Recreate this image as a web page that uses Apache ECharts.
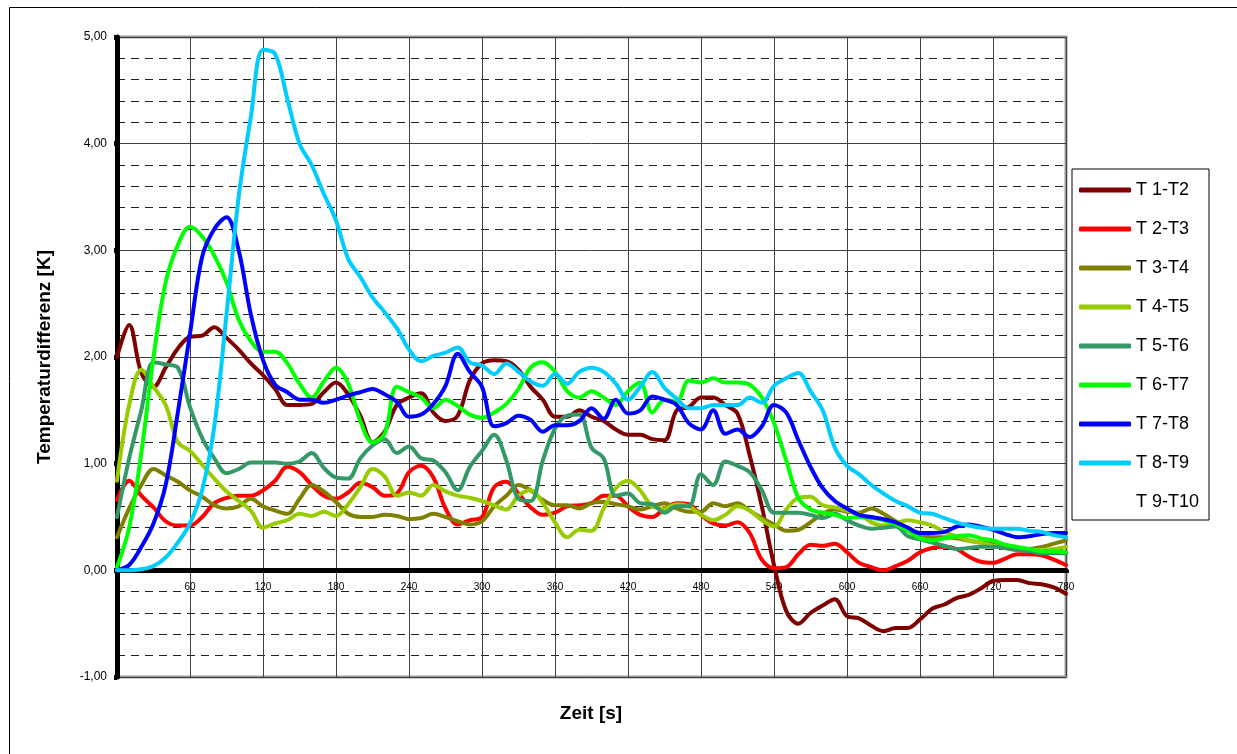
<!DOCTYPE html>
<html>
<head>
<meta charset="utf-8">
<script src="https://cdn.jsdelivr.net/npm/echarts@6/dist/echarts.min.js"></script>
<style>
html,body{margin:0;padding:0;background:#fff;}
#chart{width:1237px;height:754px;}
</style>
</head>
<body>
<div id="chart"></div>
<script>
const xTickLabels = [60,120,180,240,300,360,420,480,540,600,660,720,780];
const seriesNames = ['T 1-T2','T 2-T3','T 3-T4','T 4-T5','T 5-T6','T 6-T7','T 7-T8','T 8-T9','T 9-T10'];
const seriesColors = ['#800000','#FF0000','#808000','#99CC00','#339966','#00FF00','#0000FF','#00CCFF','rgba(0,0,0,0)'];

const time = [0,10,20,30,40,50,60,70,80,90,100,110,120,130,140,150,160,170,180,190,200,210,220,230,240,250,260,270,280,290,300,310,320,330,340,350,360,370,380,390,400,410,420,430,440,450,460,470,480,490,500,510,520,530,540,550,560,570,580,590,600,610,620,630,640,650,660,670,680,690,700,710,720,730,740,750,760,770,780];

const t1_t2 = [2.0,2.3,1.85,1.72,1.9,2.08,2.19,2.2,2.28,2.18,
2.07,1.94,1.83,1.7,1.55,1.55,1.56,1.67,1.76,1.65,
1.45,1.2,1.3,1.55,1.62,1.66,1.48,1.4,1.45,1.78,
1.94,1.97,1.96,1.88,1.72,1.6,1.44,1.44,1.5,1.44,
1.4,1.32,1.27,1.27,1.23,1.22,1.5,1.53,1.62,1.62,
1.55,1.47,1.08,0.6,0.05,-0.38,-0.5,-0.4,-0.33,-0.27,
-0.43,-0.45,-0.52,-0.57,-0.54,-0.54,-0.46,-0.36,-0.32,-0.26,
-0.23,-0.17,-0.1,-0.09,-0.09,-0.12,-0.13,-0.16,-0.22];

const t2_t3 = [0.66,0.84,0.7,0.59,0.46,0.42,0.42,0.5,0.63,0.68,
0.7,0.7,0.75,0.84,0.97,0.92,0.8,0.7,0.67,0.73,
0.82,0.78,0.7,0.72,0.92,0.98,0.87,0.58,0.43,0.47,
0.5,0.78,0.83,0.72,0.59,0.52,0.54,0.6,0.61,0.63,
0.7,0.7,0.6,0.52,0.5,0.58,0.63,0.62,0.52,0.44,
0.42,0.45,0.35,0.1,0.02,0.03,0.15,0.24,0.23,0.25,
0.17,0.07,0.03,0.0,0.04,0.09,0.17,0.21,0.22,0.2,
0.13,0.08,0.07,0.11,0.15,0.15,0.14,0.1,0.05];

const t3_t4 = [0.31,0.58,0.8,0.95,0.89,0.83,0.75,0.69,0.61,0.58,
0.6,0.67,0.6,0.56,0.53,0.67,0.8,0.74,0.64,0.53,
0.5,0.5,0.52,0.51,0.48,0.49,0.53,0.5,0.46,0.43,
0.46,0.6,0.7,0.8,0.75,0.66,0.61,0.61,0.58,0.63,
0.64,0.62,0.6,0.57,0.6,0.63,0.58,0.55,0.55,0.63,
0.6,0.63,0.56,0.49,0.43,0.37,0.38,0.45,0.53,0.57,
0.55,0.54,0.58,0.53,0.46,0.39,0.33,0.31,0.31,0.3,
0.28,0.26,0.25,0.23,0.21,0.2,0.22,0.25,0.28];

const t4_t5 = [0.84,1.55,1.88,1.72,1.55,1.2,1.12,0.99,0.86,0.74,
0.65,0.56,0.4,0.44,0.47,0.53,0.51,0.55,0.51,0.62,
0.78,0.95,0.88,0.7,0.73,0.7,0.8,0.74,0.7,0.68,
0.65,0.61,0.57,0.7,0.75,0.63,0.45,0.31,0.38,0.37,
0.58,0.77,0.84,0.75,0.6,0.58,0.62,0.6,0.52,0.47,
0.52,0.6,0.56,0.47,0.41,0.57,0.68,0.69,0.61,0.59,
0.56,0.53,0.45,0.42,0.44,0.47,0.45,0.42,0.36,0.32,
0.28,0.26,0.23,0.21,0.19,0.19,0.19,0.2,0.22];

const t5_t6 = [0.5,1.05,1.5,1.95,1.93,1.9,1.53,1.24,1.05,0.91,
0.95,1.01,1.01,1.01,1.0,1.02,1.1,0.96,0.87,0.86,
1.05,1.17,1.23,1.1,1.16,1.05,1.03,0.92,0.75,0.97,
1.12,1.27,1.03,0.67,0.65,1.03,1.33,1.45,1.46,1.15,
1.05,0.7,0.72,0.63,0.62,0.54,0.6,0.6,0.9,0.8,
1.02,0.98,0.92,0.75,0.54,0.54,0.54,0.52,0.49,0.53,
0.47,0.42,0.39,0.4,0.41,0.32,0.29,0.26,0.23,0.2,
0.21,0.22,0.22,0.21,0.19,0.18,0.16,0.16,0.16];

const t6_t7 = [0.03,0.4,1.1,2.0,2.7,3.05,3.22,3.13,2.95,2.7,
2.35,2.15,2.05,2.05,1.94,1.75,1.62,1.77,1.9,1.75,
1.4,1.2,1.28,1.72,1.67,1.62,1.52,1.6,1.54,1.46,
1.43,1.48,1.56,1.7,1.9,1.95,1.86,1.68,1.62,1.68,
1.62,1.55,1.68,1.76,1.48,1.6,1.58,1.78,1.76,1.8,
1.76,1.76,1.74,1.62,1.38,1.03,0.68,0.57,0.54,0.52,
0.49,0.5,0.49,0.47,0.43,0.37,0.3,0.28,0.3,0.32,
0.33,0.3,0.28,0.24,0.22,0.2,0.18,0.18,0.17];

const t7_t8 = [0,0.05,0.22,0.44,0.8,1.48,2.22,2.94,3.2,3.31,
3.0,2.4,1.97,1.74,1.67,1.6,1.6,1.57,1.6,1.64,
1.67,1.7,1.65,1.58,1.44,1.46,1.56,1.73,2.03,1.86,
1.72,1.35,1.38,1.45,1.41,1.3,1.36,1.36,1.4,1.52,
1.42,1.6,1.47,1.5,1.63,1.6,1.55,1.38,1.32,1.5,
1.28,1.32,1.25,1.35,1.55,1.48,1.22,0.97,0.77,0.65,
0.58,0.52,0.5,0.48,0.45,0.4,0.35,0.35,0.36,0.41,
0.43,0.41,0.38,0.34,0.31,0.32,0.34,0.35,0.35];

const t8_t9 = [0,0,0.01,0.04,0.12,0.26,0.44,0.75,1.35,2.4,
3.5,4.25,4.88,4.84,4.42,4.0,3.8,3.53,3.28,2.92,
2.75,2.56,2.42,2.27,2.07,1.96,2.01,2.04,2.09,1.95,
1.92,1.84,1.94,1.86,1.77,1.73,1.84,1.75,1.86,1.9,
1.86,1.75,1.6,1.72,1.86,1.71,1.61,1.52,1.52,1.55,
1.55,1.55,1.62,1.57,1.73,1.8,1.85,1.68,1.5,1.15,
0.98,0.9,0.8,0.72,0.65,0.6,0.54,0.53,0.49,0.45,
0.42,0.4,0.39,0.39,0.39,0.37,0.36,0.33,0.31];

const t9_t10 = [];

const seriesValues = [t1_t2,t2_t3,t3_t4,t4_t5,t5_t6,t6_t7,t7_t8,t8_t9,t9_t10];

const chart = echarts.init(document.getElementById('chart'), null, {renderer:'canvas'});
const FONT = 'Arial, "Liberation Sans", sans-serif';

const series = seriesNames.map((name, i) => ({
  name: name,
  type: 'line',
  data: seriesValues[i].map((v, k) => [time[k], v]),
  showSymbol: false,
  symbol: 'none',
  smooth: 0.35,
  color: seriesColors[i],
  lineStyle: {width: 4, color: seriesColors[i], cap: 'round', join: 'round'},
  animation: false
}));

chart.setOption({
  animation: false,
  backgroundColor: '#ffffff',
  grid: {left: 117, top: 37, width: 949, height: 640, show: true, borderColor: '#999999', borderWidth: 3, backgroundColor: '#ffffff'},
  xAxis: {
    type: 'value', min: 0, max: 780, interval: 60,
    position: 'bottom', offset: -107,
    axisLine: {show: true, onZero: false, lineStyle: {color: '#000', width: 5}},
    axisTick: {show: true, length: 3, lineStyle: {color: '#000', width: 5}},
    axisLabel: {
      fontSize: 10, color: '#000', fontFamily: FONT, margin: 12, showMaxLabel: true,
      formatter: v => (xTickLabels.indexOf(v) >= 0 ? String(v) : '')
    },
    splitLine: {show: true, lineStyle: {color: '#404040', width: 1}}
  },
  yAxis: {
    type: 'value', min: -1, max: 5, interval: 1,
    axisLine: {show: true, onZero: false, lineStyle: {color: '#000', width: 5}},
    axisTick: {show: true, length: 3, lineStyle: {color: '#000', width: 5}},
    axisLabel: {fontSize: 12, color: '#000', fontFamily: FONT, margin: 10,
      formatter: v => v.toFixed(2).replace('.', ',')},
    splitLine: {show: true, lineStyle: {color: '#404040', width: 1}},
    minorTick: {show: false, splitNumber: 5},
    minorSplitLine: {show: true, lineStyle: {color: '#222', width: 1, type: [8, 6]}}
  },
  legend: {
    orient: 'vertical', left: 1072, top: 169,
    data: seriesNames,
    icon: 'roundRect', itemWidth: 52, itemHeight: 5, itemGap: 19,
    padding: [11, 10, 8, 7],
    borderColor: '#000', borderWidth: 1, backgroundColor: '#fff',
    selectedMode: false,
    textStyle: {fontSize: 18, color: '#000', fontFamily: FONT, lineHeight: 20, padding: [0,0,0,0]}
  },
  graphic: [
    {type: 'rect', left: 7, top: 5, silent: true, z: -10,
     shape: {x: 0.5, y: 0.5, width: 1300, height: 800},
     style: {fill: 'none', stroke: '#000', lineWidth: 1}},
    {type: 'text', x: 45, y: 357, rotation: Math.PI / 2, silent: true,
     style: {text: 'Temperaturdifferenz [K]', font: 'bold 19px ' + FONT, fill: '#000', textAlign: 'center', textVerticalAlign: 'middle'}},
    {type: 'text', x: 591, y: 714, silent: true,
     style: {text: 'Zeit [s]', font: 'bold 19px ' + FONT, fill: '#000', textAlign: 'center', textVerticalAlign: 'middle'}}
  ],
  series: series
});
</script>
</body>
</html>
